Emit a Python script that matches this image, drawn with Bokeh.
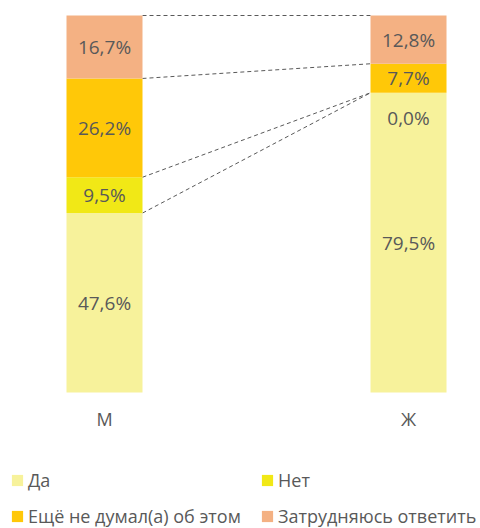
from bokeh.plotting import figure
from bokeh.models import ColumnDataSource, Range1d, Legend, LegendItem
from bokeh.core.properties import value
from bokeh.embed import file_html
from bokeh.resources import INLINE

categories = ["М", "Ж"]
series = ["Да", "Нет", "Ещё не думал(а) об этом", "Затрудняюсь ответить"]
da = [47.6, 79.5]
net = [9.5, 0.0]
eshche = [26.2, 7.7]
zatr = [16.7, 12.8]
colors = ["#F7F29B", "#F1E816", "#FFC808", "#F4B183"]

FONT = "Open Sans"
GRAY = "#595959"

p = figure(width=480, height=528, output_backend="svg", toolbar_location=None,
           x_axis_type=None, y_axis_type=None,
           x_range=Range1d(-0.3421, 1.2368), y_range=Range1d(-36.07, 103.979),
           min_border=0, min_border_left=0, min_border_right=0,
           min_border_top=0, min_border_bottom=0)
p.outline_line_color = None
p.background_fill_color = "white"

xs = list(range(len(categories)))
vals = [da, net, eshche, zatr]
bar_w = 0.25

bottoms = []
tops = []
run = [0.0] * len(categories)
for v in vals:
    b = list(run)
    t = [run[i] + v[i] for i in range(len(categories))]
    bottoms.append(b)
    tops.append(t)
    run = t

for k in range(len(series)):
    p.line(x=[xs[0] + bar_w / 2, xs[1] - bar_w / 2], y=[tops[k][0], tops[k][1]],
           line_color=GRAY, line_width=1, line_dash="4 3")

renderers = []
for k, name in enumerate(series):
    src = ColumnDataSource(dict(
        x=xs, bottom=bottoms[k], top=tops[k],
        mid=[(bottoms[k][i] + tops[k][i]) / 2 for i in range(len(xs))],
        yoff=[25 if vals[k][i] == 0 else 0 for i in range(len(xs))],
        lab=[f"{vals[k][i]:.1f}".replace(".", ",") + "%" for i in range(len(xs))]))
    r = p.vbar(x="x", bottom="bottom", top="top", width=bar_w, source=src,
               fill_color=colors[k], line_color=None)
    renderers.append(r)
    p.text(x="x", y="mid", text="lab", source=src, y_offset="yoff",
           text_align="center", text_baseline="middle", text_color=GRAY,
           text_font=value(FONT), text_font_size="19px")

cat_src = ColumnDataSource(dict(x=xs, y=[-7.0] * len(xs), t=categories))
p.text(x="x", y="y", text="t", source=cat_src, text_align="center",
       text_baseline="middle", text_color=GRAY, text_font=value(FONT),
       text_font_size="18px")

positions = [(10, 36), (260, 36), (10, 0), (260, 0)]
for k, name in enumerate(series):
    lg = Legend(items=[LegendItem(label=name, renderers=[renderers[k]])],
                location=positions[k], orientation="horizontal",
                glyph_width=14, glyph_height=14, label_standoff=4,
                label_text_font=FONT, label_text_font_size="18px",
                label_text_color=GRAY, padding=0, margin=0, spacing=0,
                border_line_color=None, background_fill_alpha=0)
    p.add_layout(lg)

open("out.html", "w").write(file_html(p, INLINE))
